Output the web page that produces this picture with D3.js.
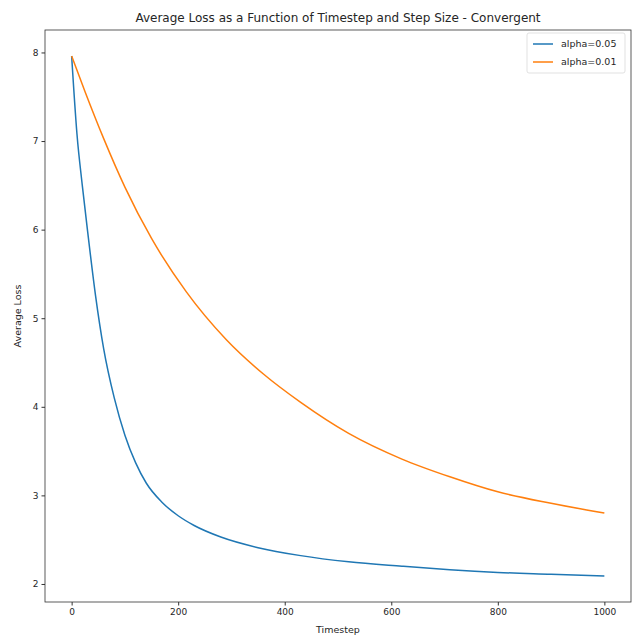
<!DOCTYPE html>
<html>
<head>
<meta charset="utf-8">
<script src="https://cdn.jsdelivr.net/npm/d3@7"></script>
<style>
  body { margin: 0; background: #fff; }
  text { font-family: "DejaVu Sans", sans-serif; fill: #262626; }
  .tick line { stroke: #333; }
  .domain { display: none; }
</style>
</head>
<body>
<div id="chart"></div>
<script>
// data
var timesteps = [0, 10, 20, 30, 45, 60, 80, 100, 120, 140, 170, 200, 230, 280, 350, 430, 520, 620, 710, 800, 900, 1000];
var lossFast  = [7.96, 7.08, 6.5, 5.98, 5.25, 4.66, 4.1, 3.68, 3.37, 3.14, 2.92, 2.77, 2.66, 2.53, 2.41, 2.32, 2.25, 2.2, 2.16, 2.13, 2.11, 2.09];
var stepsSlow = [0, 25, 60, 100, 150, 215, 290, 360, 430, 520, 620, 710, 800, 900, 1000];
var lossSlow  = [7.96, 7.56, 7.03, 6.48, 5.9, 5.3, 4.76, 4.37, 4.05, 3.7, 3.41, 3.21, 3.04, 2.91, 2.8];
var seriesNames = ["alpha=0.05", "alpha=0.01"];
var colors = ["#1f77b4", "#ff7f0e"];
var xTicks = [0, 200, 400, 600, 800, 1000];
var yTicks = [2, 3, 4, 5, 6, 7, 8];

var W = 634, H = 636;
var margin = {top: 30, right: 3, bottom: 34, left: 45},
    width = W - margin.left - margin.right,
    height = H - margin.top - margin.bottom;

var series = [
  timesteps.map(function(t, i) { return {t: t, v: lossFast[i]}; }),
  stepsSlow.map(function(t, i) { return {t: t, v: lossSlow[i]}; })
];

// matplotlib style 5% margins
var allV = lossFast.concat(lossSlow);
var vmin = d3.min(allV), vmax = d3.max(allV), pad = (vmax - vmin) * 0.05;

var x = d3.scaleLinear().domain([-50, 1050]).range([0, width]);
var y = d3.scaleLinear().domain([vmin - pad, vmax + pad]).range([height, 0]);

var svg = d3.select("#chart").append("svg")
  .attr("width", W).attr("height", H);

var g = svg.append("g")
  .attr("transform", "translate(" + margin.left + "," + margin.top + ")");

var line = d3.line()
  .x(function(d) { return x(d.t); })
  .y(function(d) { return y(d.v); })
  .curve(d3.curveMonotoneX);

series.forEach(function(s, i) {
  g.append("path")
    .datum(s)
    .attr("fill", "none")
    .attr("stroke", colors[i])
    .attr("stroke-width", 1.5)
    .attr("d", line);
});

// axes
g.append("g")
  .attr("transform", "translate(0," + height + ")")
  .call(d3.axisBottom(x).tickValues(xTicks).tickFormat(d3.format("d")).tickSize(3.5).tickPadding(3))
  .selectAll("text").style("font-size", "9px");

g.append("g")
  .call(d3.axisLeft(y).tickValues(yTicks).tickFormat(d3.format("d")).tickSize(3.5).tickPadding(3))
  .selectAll("text").style("font-size", "9px");

// frame
g.append("rect")
  .attr("width", width).attr("height", height)
  .attr("fill", "none").attr("stroke", "#333").attr("stroke-width", 0.8);

// title and labels
svg.append("text")
  .attr("x", margin.left + width / 2).attr("y", 22)
  .attr("text-anchor", "middle")
  .style("font-size", "12px")
  .text("Average Loss as a Function of Timestep and Step Size - Convergent");

svg.append("text")
  .attr("x", margin.left + width / 2).attr("y", 633)
  .attr("text-anchor", "middle")
  .style("font-size", "9.5px")
  .text("Timestep");

svg.append("text")
  .attr("transform", "translate(21," + (margin.top + height / 2) + ") rotate(-90)")
  .attr("text-anchor", "middle")
  .style("font-size", "9.5px")
  .text("Average Loss");

// legend
var leg = svg.append("g").attr("transform", "translate(527,33)");
leg.append("rect")
  .attr("width", 98).attr("height", 40).attr("rx", 2)
  .attr("fill", "#fff").attr("stroke", "#d9d9d9").attr("stroke-width", 0.8);
seriesNames.forEach(function(n, i) {
  var row = leg.append("g").attr("transform", "translate(0," + (11 + i * 18) + ")");
  row.append("line")
    .attr("x1", 6).attr("x2", 26)
    .attr("stroke", colors[i]).attr("stroke-width", 1.5);
  row.append("text")
    .attr("x", 34).attr("dy", "0.35em")
    .style("font-size", "9.5px")
    .text(n);
});
</script>
</body>
</html>
